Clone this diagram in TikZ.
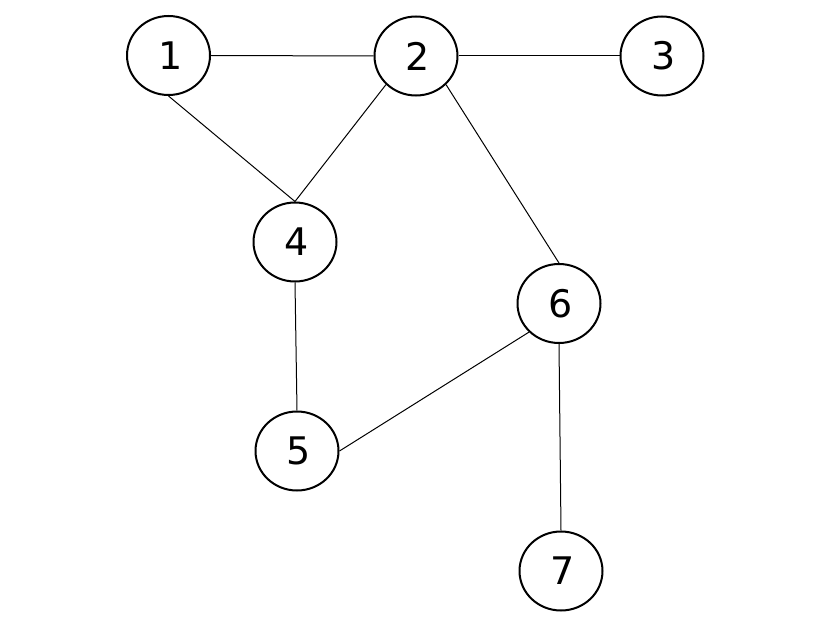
\documentclass[tikz,border=0pt]{standalone}
\usepackage{fontspec}
\setmainfont{DejaVu Sans}
\usetikzlibrary{shapes.geometric}
\newcommand{\vlab}[1]{\kern4pt\raisebox{-2pt}{#1}}
\tikzset{
  vert/.style={ellipse, draw, line width=2pt, minimum width=83pt, minimum height=79pt, inner sep=0pt, font=\fontsize{38}{42}\selectfont},
  edge/.style={line width=1pt}
}
\begin{document}
\begin{tikzpicture}[x=1pt,y=-1pt]
\useasboundingbox (0,0) rectangle (830,623);
\node[vert] (n1) at (168.5,55.5) {\vlab{1}};
\node[vert] (n2) at (416,56) {\vlab{2}};
\node[vert] (n3) at (662,56) {\vlab{3}};
\node[vert] (n4) at (295,242) {\vlab{4}};
\node[vert] (n5) at (297,451) {\vlab{5}};
\node[vert] (n6) at (559,303.5) {\vlab{6}};
\node[vert] (n7) at (561,571) {\vlab{7}};
\draw[edge] (n1.east) -- (n2.west);
\draw[edge] (n2.east) -- (n3.west);
\draw[edge] (n1.south) -- (n4.north);
\draw[edge] (n2.south west) -- (n4.north);
\draw[edge] (n2.south east) -- (n6.north);
\draw[edge] (n4.south) -- (n5.north);
\draw[edge] (n5.east) -- (n6.south west);
\draw[edge] (n6.south) -- (n7.north);
\end{tikzpicture}
\end{document}
